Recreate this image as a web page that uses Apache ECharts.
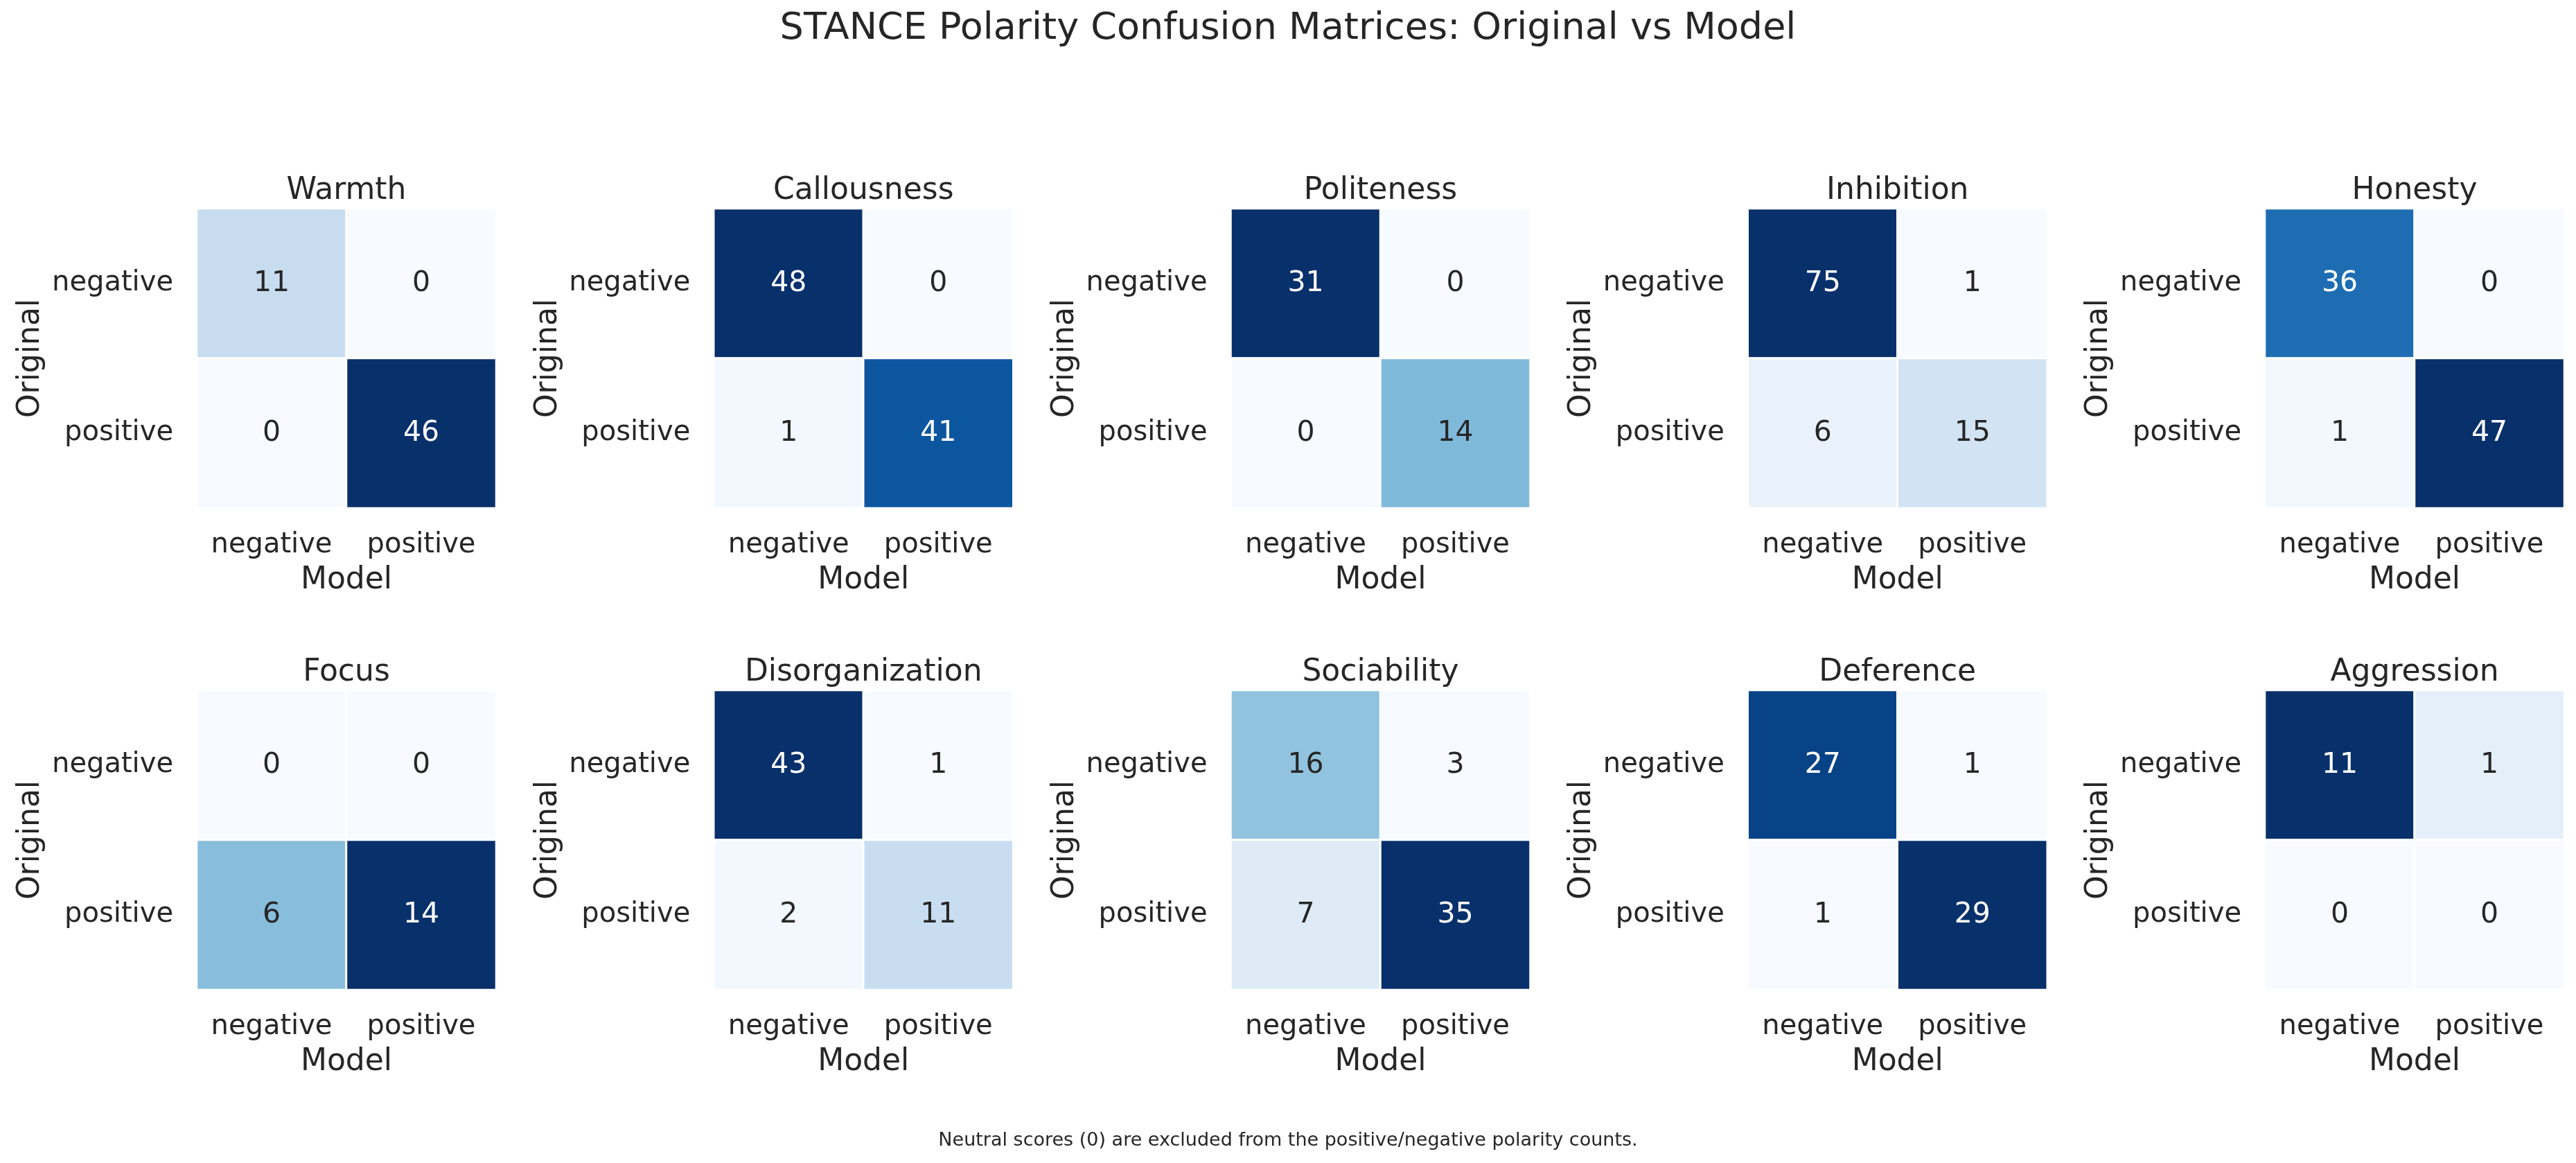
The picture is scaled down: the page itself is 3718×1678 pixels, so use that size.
<!DOCTYPE html>
<html>
<head>
<meta charset="utf-8">
<script src="https://cdn.jsdelivr.net/npm/echarts@6/dist/echarts.min.js"></script>
<style>
  html, body { margin: 0; padding: 0; background: #fff; }
  #chart { width: 3718px; height: 1678px; }
</style>
</head>
<body>
<div id="chart"></div>
<script>
// axis categories
const modelLabels = ['negative', 'positive'];
const originalLabels = ['negative', 'positive'];

// subplot titles, in reading order
const traitNames = ['Warmth', 'Callousness', 'Politeness', 'Inhibition', 'Honesty',
  'Focus', 'Disorganization', 'Sociability', 'Deference', 'Aggression'];

// counts [original row][model col]
const warmth = [[11, 0], [0, 46]];
const callousness = [[48, 0], [1, 41]];
const politeness = [[31, 0], [0, 14]];
const inhibition = [[75, 1], [6, 15]];
const honesty = [[36, 0], [1, 47]];
const focus = [[0, 0], [6, 14]];
const disorganization = [[43, 1], [2, 11]];
const sociability = [[16, 3], [7, 35]];
const deference = [[27, 1], [1, 29]];
const aggression = [[11, 1], [0, 0]];

const traitCounts = [warmth, callousness, politeness, inhibition, honesty,
  focus, disorganization, sociability, deference, aggression];

// matplotlib Blues
const blues = ['#f7fbff', '#deebf7', '#c6dbef', '#9ecae1', '#6baed6',
  '#4292c6', '#2171b5', '#08519c', '#08306b'];

const textColor = '#262626';
const font = 'DejaVu Sans';

const cellSize = 432;
const colStep = 746.25;
const rowStep = 695;
const left0 = 284;
const top0 = 301;

const grids = [], xAxes = [], yAxes = [], series = [], visualMaps = [];
const titles = [
  {
    text: 'STANCE Polarity Confusion Matrices: Original vs Model',
    left: 1859, top: 15, textAlign: 'center', padding: 0,
    textStyle: { fontFamily: font, fontSize: 54, fontWeight: 'normal', color: textColor }
  },
  {
    text: 'Neutral scores (0) are excluded from the positive/negative polarity counts.',
    left: 1859, top: 1632, textAlign: 'center', padding: 0,
    textStyle: { fontFamily: font, fontSize: 27, fontWeight: 'normal', color: textColor }
  }
];

traitCounts.forEach((m, i) => {
  const col = i % 5;
  const row = Math.floor(i / 5);
  const left = left0 + col * colStep;
  const top = top0 + row * rowStep;
  grids.push({ left: left, top: top, width: cellSize, height: cellSize });

  titles.push({
    text: traitNames[i],
    left: left + cellSize / 2, top: top - 47, textAlign: 'center', padding: 0,
    textStyle: { fontFamily: font, fontSize: 44, fontWeight: 'normal', color: textColor }
  });

  xAxes.push({
    gridIndex: i, type: 'category', data: modelLabels,
    name: 'Model', nameLocation: 'middle', nameGap: 83,
    nameTextStyle: { fontFamily: font, fontSize: 44, color: textColor },
    axisLabel: { fontFamily: font, fontSize: 40, margin: 34, color: textColor, interval: 0, hideOverlap: false },
    axisLine: { show: false }, axisTick: { show: false }, splitLine: { show: false }
  });
  yAxes.push({
    gridIndex: i, type: 'category', data: originalLabels, inverse: true,
    name: 'Original', nameLocation: 'middle', nameGap: 217,
    nameTextStyle: { fontFamily: font, fontSize: 44, color: textColor },
    axisLabel: { fontFamily: font, fontSize: 40, margin: 34, color: textColor, interval: 0 },
    axisLine: { show: false }, axisTick: { show: false }, splitLine: { show: false }
  });

  const flat = [m[0][0], m[0][1], m[1][0], m[1][1]];
  const vmin = Math.min(...flat);
  const vmax = Math.max(...flat);
  const data = [];
  for (let r = 0; r < 2; r++) {
    for (let c = 0; c < 2; c++) {
      const v = m[r][c];
      const t = (v - vmin) / (vmax - vmin);
      data.push({ value: [c, r, v], label: { color: t > 0.6 ? '#ffffff' : textColor } });
    }
  }
  visualMaps.push({
    type: 'continuous', show: false, seriesIndex: i, dimension: 2,
    min: vmin, max: vmax, inRange: { color: blues }
  });
  series.push({
    type: 'heatmap', xAxisIndex: i, yAxisIndex: i, data: data,
    label: { show: true, fontFamily: font, fontSize: 41 },
    itemStyle: { borderColor: '#ffffff', borderWidth: 3 },
    emphasis: { disabled: true }
  });
});

const chart = echarts.init(document.getElementById('chart'));
chart.setOption({
  backgroundColor: '#ffffff',
  animation: false,
  textStyle: { fontFamily: font },
  title: titles,
  grid: grids,
  xAxis: xAxes,
  yAxis: yAxes,
  visualMap: visualMaps,
  series: series
});
</script>
</body>
</html>
